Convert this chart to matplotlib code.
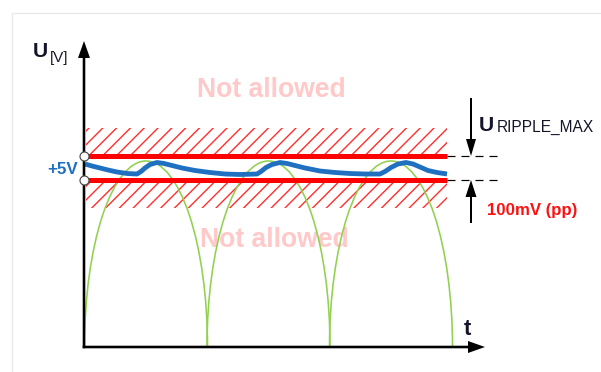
import numpy as np
import matplotlib.pyplot as plt
from matplotlib.patches import Rectangle, Arc

# everything below is measured in pixels of the 601x372 picture (y grows downwards)
DPI = 100


def pt(px):
    # pixel size -> points for this dpi
    return px * 72 / DPI


plt.rcParams['font.family'] = ['Liberation Sans', 'DejaVu Sans']
plt.rcParams['lines.scale_dashes'] = False

# smoothed output voltage (blue ripple curve)
ripple_x = [85, 92, 100, 108, 117, 127, 137, 141, 145, 150, 157, 164, 172, 182, 195, 210,
            225, 240, 257, 261, 266, 272, 280, 287, 295, 305, 320, 335, 350, 365, 380,
            385, 391, 398, 406, 413, 420, 428, 437, 447]
ripple_y = [164, 166, 168, 170, 172, 173.5, 174, 171.5, 168, 164.5, 162.5, 163.5, 165.5, 168, 170.5, 172.5,
            174, 174.5, 174, 171.5, 167.5, 164.5, 162.5, 163.5, 165.5, 168, 171, 172.5, 173.5, 174, 174,
            171.5, 167.5, 164, 162.5, 164, 167, 170.5, 172.5, 174]

# rectified half waves (green arches)
arch_centers = [146, 268.5, 391]
arch_width = 123
arch_base = 347
arch_peak = 161

# tolerance band around +5V
band_upper = 156
band_lower = 180
band_start = 84
band_end = 447
hatch_depth = 28
hatch_step = 13.8

# axes of the sketch
origin_x, origin_y = 84, 347
y_axis_top = 41
x_axis_end = 485

fig = plt.figure(figsize=(601 / DPI, 372 / DPI), dpi=DPI)
ax = fig.add_axes([0, 0, 1, 1])
ax.set_xlim(0, 601)
ax.set_ylim(372, 0)
ax.axis('off')

# faint frame of the slide
ax.plot([11.5, 11.5, 601], [372, 12.5, 12.5], color='#E8E8E8', lw=pt(1.3), zorder=0)

# "Not allowed" labels sit behind the drawing
ax.text(271.5, 97, 'Not allowed', fontsize=pt(26.5), fontweight='bold', color='#FFC9C9',
        ha='center', va='baseline', zorder=1)
ax.text(274, 247, 'Not allowed', fontsize=pt(26.5), fontweight='bold', color='#FFC9C9',
        ha='center', va='baseline', zorder=1)

# hatched forbidden zones: diagonal lines clipped to each zone
zones = [(band_upper - hatch_depth, band_upper), (band_lower, band_lower + hatch_depth)]
for top, bottom in zones:
    clip = Rectangle((band_start + 2, top), band_end - band_start - 2, bottom - top,
                     fill=False, lw=0, transform=ax.transData)
    ax.add_patch(clip)
    for c in np.arange(217 - 30 * hatch_step, 217 + 40 * hatch_step, hatch_step):
        ln, = ax.plot([c - bottom, c - top], [bottom, top], color='#FF3030', lw=pt(1.4), zorder=2)
        ln.set_clip_path(clip)

# green rectified arches
for cx in arch_centers:
    ax.add_patch(Arc((cx, arch_base), arch_width, 2 * (arch_base - arch_peak), theta1=180, theta2=360,
                     color='#92D050', lw=pt(1.6), zorder=3))

# blue ripple
ax.plot(ripple_x, ripple_y, color='#1F70C1', lw=pt(4.8), solid_capstyle='butt',
        solid_joinstyle='round', zorder=4)

# red limit lines
ax.plot([band_start, band_end], [band_upper, band_upper], color='#FF0000', lw=pt(5), solid_capstyle='butt', zorder=5)
ax.plot([band_start, band_end], [band_lower, band_lower], color='#FF0000', lw=pt(5), solid_capstyle='butt', zorder=5)

# dashed extensions
for yy in [band_upper, band_lower]:
    ax.plot([band_end, 498], [yy, yy], color='black', lw=pt(1.2), dashes=(pt(8), pt(6)), zorder=5)

# axis arrows
ax.arrow(origin_x, origin_y + 1.2, 0, y_axis_top - origin_y - 1.2, width=2.6, head_width=12, head_length=17,
         length_includes_head=True, color='black', lw=0, zorder=6)
ax.arrow(origin_x - 1.3, origin_y, x_axis_end - origin_x + 1.3, 0, width=2.6, head_width=12, head_length=17,
         length_includes_head=True, color='black', lw=0, zorder=6)

# open circles where the limits cross the U axis
ax.plot([origin_x, origin_x], [band_upper, band_lower], 'o', ms=pt(9), mfc='white', mec='#4D4D4D',
        mew=pt(1.2), zorder=7)

# ripple arrows
ax.arrow(471, 98, 0, band_upper - 98, width=2, head_width=10, head_length=17,
         length_includes_head=True, color='black', lw=0, zorder=6)
ax.arrow(471, 223, 0, band_lower - 223, width=2, head_width=11, head_length=17,
         length_includes_head=True, color='black', lw=0, zorder=6)

# labels
dark = '#14142B'
ax.text(33, 57, 'U', fontsize=pt(21), fontweight='bold', color=dark, ha='left', va='baseline')
ax.text(50, 62, '[V]', fontsize=pt(15), color=dark, ha='left', va='baseline')
ax.text(479, 131, 'U', fontsize=pt(21), fontweight='bold', color=dark, ha='left', va='baseline')
ax.text(497, 132, 'RIPPLE_MAX', fontsize=pt(15.5), color=dark, ha='left', va='baseline')
ax.text(464, 335, 't', fontsize=pt(22), fontweight='bold', color=dark, ha='left', va='baseline')
ax.text(78, 174, '+5V', fontsize=pt(17), fontweight='bold', color='#1F70C1', ha='right', va='baseline')
ax.text(487, 215, '100mV (pp)', fontsize=pt(16.8), fontweight='bold', color='#FF1010', ha='left', va='baseline')

fig.savefig('out.png', dpi=DPI)
